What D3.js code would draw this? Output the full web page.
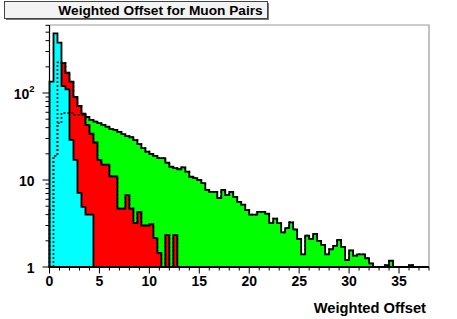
<!DOCTYPE html>
<html>
<head>
<meta charset="utf-8">
<script src="https://cdn.jsdelivr.net/npm/d3@7.9.0/dist/d3.min.js"></script>
<style>
  body { margin: 0; background: #fff; }
  svg { display: block; font-family: "Liberation Sans", Arial, Helvetica, sans-serif; font-weight: bold; }
</style>
</head>
<body>
<div id="chart"></div>
<script>
// histogram bins: width 0.4 starting at 0
const binWidth = 0.4;
const cyanCounts = [135, 485, 380, 120, 110, 29, 17, 7.1, 4.9, 4.0, 4.0];
const redCounts = [4.5, 19, 225, 221, 171, 135, 90, 71, 58, 43, 34, 27, 17, 15, 15, 11, 11,
  4.7, 4.7, 6.7, 4.7, 3.2, 4.3, 3.0, 3.0, 3.1, 2.15, 1.45, 0, 2.33, 0, 2.33];
const greenCounts = [0, 19, 45, 59, 59, 59, 56, 56, 56, 53, 49, 47, 45, 43, 41, 38.5, 37.6,
  35.7, 33.6, 32, 31, 28.8, 25.9, 23.3, 21.2, 19.9, 18.9, 17.8, 17.8, 15.8, 14.2, 13.7,
  13.3, 14, 12.5, 10.9, 10.5, 10, 9.2, 7.7, 7.3, 7.3, 6.2, 7.7, 6.7, 7.3, 6.4, 5.6, 5.2,
  4.5, 4.0, 4.0, 4.3, 4.3, 4.1, 3.2, 3.6, 3.2, 2.5, 2.8, 3.26, 2.7, 2.1, 1.4, 2.3, 2.1,
  2.4, 2.0, 1.8, 1.4, 1.6, 1.75, 2.05, 1.7, 1.2, 1.55, 1.35, 1.4, 1.4, 1.26, 1.1, 1, 1, 1,
  1.05, 1.18, 1, 1, 1, 1, 1.05, 1, 1, 1, 1];

const xDomain = [0, 38];
const yDomain = [1, 605];
const xMajorTicks = [0, 5, 10, 15, 20, 25, 30, 35];
const yMajorTicks = [1, 10, 100];
const yTickLabels = [["1", ""], ["10", ""], ["10", "2"]];
const titleText = "Weighted Offset for Muon Pairs";
const xTitle = "Weighted Offset";

const W = 457, H = 319;
const frame = { left: 49.5, right: 429, top: 25, bottom: 267 };

const svg = d3.select("#chart").append("svg")
  .attr("width", W)
  .attr("height", H);

const x = d3.scaleLinear().domain(xDomain).range([frame.left, frame.right]);
const y = d3.scaleLog().domain(yDomain).range([frame.bottom, frame.top]);

// title box
svg.append("rect")
  .attr("x", 6).attr("y", 3).attr("width", 263).attr("height", 17)
  .attr("fill", "#777");
svg.append("rect")
  .attr("x", 4.5).attr("y", 1.5).attr("width", 263).attr("height", 17)
  .attr("fill", "#f3f3f3").attr("stroke", "#444").attr("stroke-width", 1);
svg.append("text")
  .attr("x", 160.5).attr("y", 14.5)
  .attr("text-anchor", "middle")
  .attr("font-size", 13.7)
  .text(titleText);

// frame (top/right in grey)
svg.append("path")
  .attr("d", `M${frame.left},${frame.top}H${frame.right}V${frame.bottom}`)
  .attr("fill", "none").attr("stroke", "#9a9a9a").attr("stroke-width", 1.2);

function stepPath(counts) {
  const pts = [[x(0), y(1)]];
  counts.forEach((c, i) => {
    const v = Math.max(c, 1);
    pts.push([x(i * binWidth), y(v)], [x((i + 1) * binWidth), y(v)]);
  });
  pts.push([x(counts.length * binWidth), y(1)]);
  return d3.line()(pts);
}

const hists = [
  { counts: greenCounts, color: "#00ff00" },
  { counts: redCounts, color: "#ff0000" },
  { counts: cyanCounts, color: "#00ffff" }
];

const g = svg.append("g");
hists.forEach(h => {
  g.append("path")
    .attr("d", stepPath(h.counts) + "Z")
    .attr("fill", h.color)
    .attr("stroke", "#000")
    .attr("stroke-width", 1.8)
    .attr("stroke-linejoin", "miter");
});

// hidden parts of green and red, dashed on top
[greenCounts, redCounts].forEach(c => {
  g.append("path")
    .attr("d", stepPath(c))
    .attr("fill", "none")
    .attr("stroke", "#000")
    .attr("stroke-width", 1.6)
    .attr("stroke-dasharray", "2,2");
});

// x axis
const xMinor = d3.range(0, 39, 1);
const xAxis = svg.append("g");
xAxis.append("line")
  .attr("x1", frame.left).attr("x2", frame.right)
  .attr("y1", frame.bottom).attr("y2", frame.bottom)
  .attr("stroke", "#000").attr("stroke-width", 1.2);
xAxis.selectAll("line.minor")
  .data(xMinor)
  .join("line")
    .attr("class", "minor")
    .attr("x1", d => x(d)).attr("x2", d => x(d))
    .attr("y1", frame.bottom).attr("y2", d => frame.bottom + (xMajorTicks.includes(d) ? 6.5 : 3.5))
    .attr("stroke", "#000").attr("stroke-width", 1);
xAxis.selectAll("text")
  .data(xMajorTicks)
  .join("text")
    .attr("x", d => x(d))
    .attr("y", 286)
    .attr("text-anchor", "middle")
    .attr("font-size", 14)
    .text(d => d);

svg.append("text")
  .attr("x", 426).attr("y", 313)
  .attr("text-anchor", "end")
  .attr("font-size", 14.7)
  .text(xTitle);

// y axis (log)
const yMinor = [];
[1, 10, 100].forEach(dec => {
  for (let m = 2; m <= 9; m++) if (dec * m <= yDomain[1]) yMinor.push(dec * m);
});
const yAxis = svg.append("g");
yAxis.append("line")
  .attr("x1", frame.left).attr("x2", frame.left)
  .attr("y1", frame.top).attr("y2", frame.bottom)
  .attr("stroke", "#000").attr("stroke-width", 1.2);
yAxis.selectAll("line.minor")
  .data(yMinor)
  .join("line")
    .attr("class", "minor")
    .attr("x1", frame.left - 4).attr("x2", frame.left)
    .attr("y1", d => y(d)).attr("y2", d => y(d))
    .attr("stroke", "#000").attr("stroke-width", 1);
yAxis.selectAll("line.major")
  .data(yMajorTicks)
  .join("line")
    .attr("class", "major")
    .attr("x1", frame.left - 7).attr("x2", frame.left)
    .attr("y1", d => y(d)).attr("y2", d => y(d))
    .attr("stroke", "#000").attr("stroke-width", 1);
const yLab = yAxis.selectAll("text")
  .data(yMajorTicks)
  .join("text")
    .attr("x", 34.5)
    .attr("y", d => y(d) + 5.5)
    .attr("text-anchor", "end")
    .attr("font-size", 14);
yLab.each(function(d, i) {
  const t = d3.select(this);
  const [base, sup] = yTickLabels[i];
  t.append("tspan").text(base);
  if (sup) t.append("tspan").attr("font-size", 9.5).attr("dy", -7).text(sup);
});
</script>
</body>
</html>
